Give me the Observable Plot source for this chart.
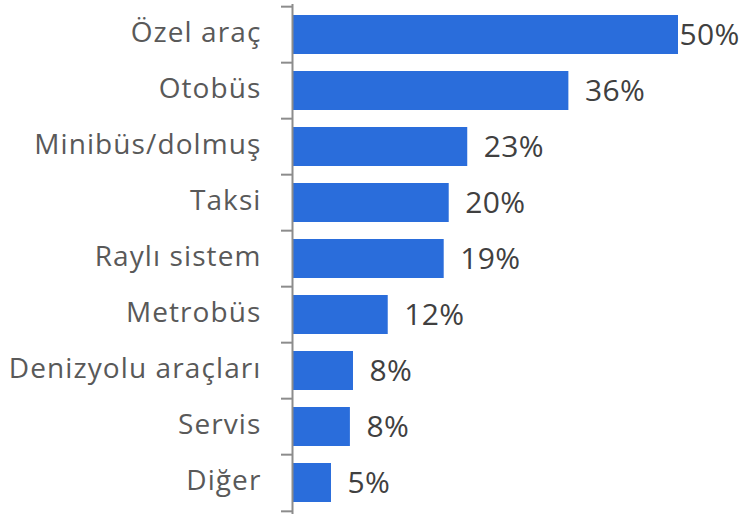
<!DOCTYPE html>
<html>
<head>
<meta charset="utf-8">
<script src="https://cdn.jsdelivr.net/npm/d3@7"></script>
<script src="https://cdn.jsdelivr.net/npm/@observablehq/plot@0.6"></script>
<style>
  html, body { margin: 0; padding: 0; background: #fff; }
  #chart svg { display: block; }
  #chart g[aria-label="y-axis tick label"] text { letter-spacing: 1.1px; }
  #chart g[aria-label="text"] text { letter-spacing: 0.4px; }
</style>
</head>
<body>
<div id="chart"></div>
<script>
const categories = ["Özel araç", "Otobüs", "Minibüs/dolmuş", "Taksi", "Raylı sistem", "Metrobüs", "Denizyolu araçları", "Servis", "Diğer"];
const values = [50, 35.8, 22.7, 20.3, 19.65, 12.4, 7.9, 7.5, 5.05];
const valueLabels = ["50%", "36%", "23%", "20%", "19%", "12%", "8%", "8%", "5%"];

const data = categories.map((c, i) => ({cat: c, value: values[i], label: valueLabels[i]}));

const W = 743, H = 516, mT = 4, mB = 2, mL = 292, mR = 65;
const p = 0.3;
const step = (H - mT - mB) / categories.length;
const font = "'Open Sans', sans-serif";
const fsCat = 28;
const fsVal = 30;
const catColor = "#595959";
const valColor = "#404040";
const axisColor = "#8c8c8c";
const xMax = values[0];
const tickLen = 11;

function extendLeft(index, scales, vals, dims, ctx, next) {
  const g = next(index, scales, vals, dims, ctx);
  g.querySelectorAll("line").forEach(l => {
    l.setAttribute("x1", +l.getAttribute("x2") - tickLen);
  });
  return g;
}

const chart = Plot.plot({
  width: W,
  height: H,
  marginTop: mT,
  marginBottom: mB,
  marginLeft: mL,
  marginRight: mR,
  style: {fontFamily: font, background: "#fff"},
  x: {domain: [0, xMax], axis: null},
  y: {domain: categories, paddingInner: p, paddingOuter: p / 2, label: null, axis: null},
  marks: [
    Plot.barX(data, {x: "value", y: "cat", fill: "#2a6ddb"}),
    Plot.axisY({tickSize: 0, tickPadding: 31, fontSize: fsCat, fill: catColor, label: null, dy: -2}),
    Plot.ruleX([0], {stroke: axisColor, strokeWidth: 2}),
    Plot.ruleY(categories, {y: d => d, x1: 0, x2: 0, dy: -step / 2, stroke: axisColor, strokeWidth: 2, render: extendLeft}),
    Plot.ruleY(categories.slice(-1), {y: d => d, x1: 0, x2: 0, dy: step / 2, stroke: axisColor, strokeWidth: 2, render: extendLeft}),
    Plot.text(data.filter(d => d.value / xMax < 0.9), {x: "value", y: "cat", text: "label", dx: 16, textAnchor: "start", fontSize: fsVal, fill: valColor}),
    Plot.text(data.filter(d => d.value / xMax >= 0.9), {x: "value", y: "cat", text: "label", dx: 1, textAnchor: "start", fontSize: fsVal, fill: valColor})
  ]
});
document.getElementById("chart").appendChild(chart);
</script>
</body>
</html>
